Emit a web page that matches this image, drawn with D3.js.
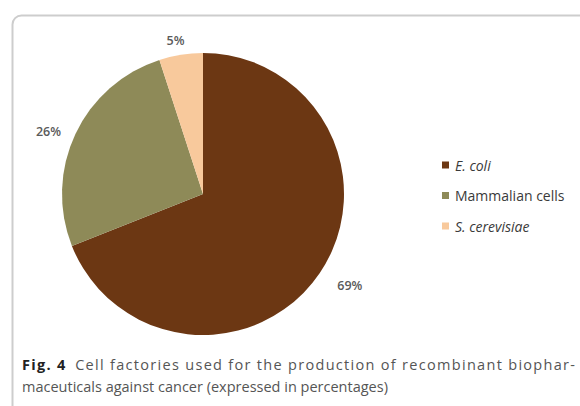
<!DOCTYPE html>
<html>
<head>
<meta charset="utf-8">
<script src="https://cdn.jsdelivr.net/npm/d3@7/dist/d3.min.js"></script>
<style>
  html, body { margin: 0; padding: 0; background: #fff; }
  svg { display: block; }
</style>
</head>
<body>
<svg id="chart" width="580" height="406"></svg>
<script>
// Share of cell factories used for anti-cancer recombinant biopharmaceuticals
const categories = ["E. coli", "Mammalian cells", "S. cerevisiae"];
const shares = [69, 26, 5];
const valueLabels = ["69%", "26%", "5%"];
const sliceColors = ["#6c3713", "#8e8a58", "#f8c99c"];

const svg = d3.select("#chart");
const font = "'Open Sans', 'Noto Sans', sans-serif";

// Figure frame: rounded box whose right and bottom edges run off the page
svg.append("rect")
  .attr("x", 12.5).attr("y", 15.5)
  .attr("width", 640).attr("height", 500)
  .attr("rx", 9).attr("ry", 9)
  .attr("fill", "none")
  .attr("stroke", "#cdcdcd")
  .attr("stroke-width", 2);

const cx = 203, cy = 194, r = 141;

const pie = d3.pie().sort(null).value(d => d)(shares);
const arc = d3.arc().innerRadius(0).outerRadius(r);

const g = svg.append("g").attr("transform", `translate(${cx},${cy})`);

g.selectAll("path.slice")
  .data(pie)
  .join("path")
  .attr("class", "slice")
  .attr("d", arc)
  .attr("fill", (d, i) => sliceColors[i]);

// Percentage labels placed outside the rim
const labelArc = d3.arc().innerRadius(r + 22).outerRadius(r + 22);
const labelNudge = [[12, 0], [-7, 7], [-2, 7]];
g.selectAll("text.pct")
  .data(pie)
  .join("text")
  .attr("class", "pct")
  .attr("transform", (d, i) => {
    const [x, y] = labelArc.centroid(d);
    return `translate(${x + labelNudge[i][0]},${y + labelNudge[i][1]})`;
  })
  .attr("text-anchor", "middle")
  .attr("dominant-baseline", "central")
  .attr("font-family", font)
  .attr("font-size", 12.5)
  .attr("font-weight", 600)
  .attr("fill", "#5a5a5a")
  .text((d, i) => valueLabels[i]);

// Legend
const legendY = d3.scalePoint().domain(categories).range([165, 226]);
const items = svg.append("g").selectAll("g")
  .data(categories)
  .join("g")
  .attr("transform", d => `translate(442,${legendY(d)})`);
items.append("rect")
  .attr("x", 0).attr("y", -3.5)
  .attr("width", 7).attr("height", 7)
  .attr("fill", (d, i) => sliceColors[i]);
items.append("text")
  .attr("x", 13).attr("y", 0)
  .attr("dominant-baseline", "central")
  .attr("font-family", font)
  .attr("font-size", 14)
  .attr("font-weight", 500)
  .attr("fill", "#3a3a3a")
  .attr("font-style", d => d === "Mammalian cells" ? "normal" : "italic")
  .text(d => d);

// Caption: first line justified to the full text width, second line ragged
const captionLeft = 22, captionRight = 575;
const caption = svg.append("g")
  .attr("font-family", font)
  .attr("font-size", 14.5)
  .attr("fill", "#555");
const line1 = caption.append("text").attr("x", captionLeft).attr("y", 370)
  .attr("textLength", captionRight - captionLeft)
  .attr("lengthAdjust", "spacing");
line1.append("tspan").attr("font-weight", "bold").attr("fill", "#222").text("Fig.\u00a04");
line1.append("tspan").text("\u2002Cell factories used for the production of recombinant biophar-");
caption.append("text").attr("x", captionLeft).attr("y", 392)
  .text("maceuticals against cancer (expressed in percentages)");
</script>
</body>
</html>
